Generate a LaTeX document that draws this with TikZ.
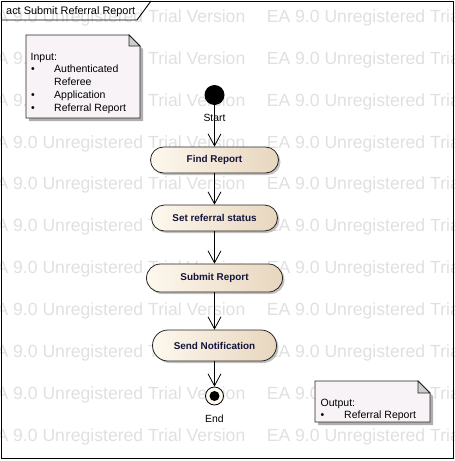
\documentclass[tikz,border=0pt]{standalone}
\usepackage{fontspec}
\setmainfont{Liberation Sans}
\usetikzlibrary{arrows.meta,shadows}
\definecolor{wm}{RGB}{224,224,224}
\definecolor{actL}{RGB}{253,248,238}
\definecolor{actR}{RGB}{232,214,190}
\definecolor{txt}{RGB}{20,20,60}
\definecolor{notefill}{RGB}{247,243,247}
\definecolor{foldc}{RGB}{206,206,206}
\definecolor{shd}{RGB}{175,175,175}
\tikzset{
  wmtext/.style={anchor=base west, inner sep=0pt, text=wm, font=\fontsize{17.6}{20}\selectfont},
  action/.style={draw=black!85, line width=0.8pt, left color=actL, right color=actR,
    inner sep=0pt, text=txt, font=\fontsize{9.9}{12}\selectfont\bfseries,
    drop shadow={shadow xshift=2pt, shadow yshift=-2pt, fill=black!30, opacity=0.8}},
  flow/.style={draw=black, line width=0.8pt, -{Straight Barb[length=12pt,width=13pt,line width=0.8pt]}},
  lbl/.style={anchor=base, inner sep=0pt, font=\fontsize{10.4}{12}\selectfont},
  notetext/.style={anchor=base west, inner sep=0pt, font=\fontsize{10.5}{12}\selectfont},
  notebody/.style={draw=black!85, line width=0.8pt, fill=notefill},
  noteshadow/.style={fill=shd},
  foldpart/.style={draw=black!85, line width=0.8pt, fill=foldc},
  framebox/.style={draw=black, line width=0.9pt}
}
\begin{document}
\begin{tikzpicture}[x=1pt,y=-1pt]
\useasboundingbox (0,0) rectangle (455,461);
% watermark
\begin{scope}
\clip (0,0) rectangle (455,461);
\foreach \k in {0,...,10}{
  \foreach \j/\xx in {0/-15.4,1/266.6}{
    \node[wmtext] (wm-\k-\j) at (\xx,{22.3+41.9*\k}) {EA 9.0 Unregistered Trial Version};
  }
}
\end{scope}
% frame
\draw[framebox] (1,1) rectangle (453,458);
\draw[framebox] (1,20) -- (137,20) -- (151,1);
\node[anchor=base west, inner sep=0pt, font=\fontsize{10.9}{13}\selectfont] (title) at (6,14) {act Submit Referral Report};

% input note
\fill[noteshadow] (29,38) -- (132,38) -- (143,49) -- (143,121) -- (29,121) -- cycle;
\draw[notebody] (26,35) -- (129,35) -- (140,46) -- (140,118) -- (26,118) -- cycle;
\draw[foldpart] (129,35) -- (129,46) -- (140,46) -- cycle;
\node[notetext] (in0) at (30.5,60) {Input:};
\node[notetext] (inb1) at (31,72.5) {•};
\node[notetext] (in1) at (54,72.5) {Authenticated};
\node[notetext] (in1b) at (54,85) {Referee};
\node[notetext] (inb2) at (31,98) {•};
\node[notetext] (in2) at (54,98) {Application};
\node[notetext] (inb3) at (31,111) {•};
\node[notetext] (in3) at (54,111) {Referral Report};

% output note
\fill[noteshadow] (318,384) -- (421,384) -- (433,396) -- (433,425) -- (318,425) -- cycle;
\draw[notebody] (315,381) -- (418,381) -- (430,393) -- (430,422) -- (315,422) -- cycle;
\draw[foldpart] (418,381) -- (418,393) -- (430,393) -- cycle;
\node[notetext] (out0) at (320.5,406) {Output:};
\node[notetext] (outb1) at (320.5,418) {•};
\node[notetext] (out1) at (344,418) {Referral Report};

% start / end
\node[circle, fill=black, minimum size=20pt, inner sep=0pt] (start) at (214.5,95) {};
\node[lbl] (startlbl) at (214.5,121) {Start};

\node[action, minimum width=128pt, minimum height=26pt, rounded corners=13pt] (find) at (214.5,160) {Find Report};
\node[action, minimum width=126pt, minimum height=26pt, rounded corners=13pt] (setref) at (214.5,218) {Set referral status};
\node[action, minimum width=136pt, minimum height=28pt, rounded corners=14pt] (submit) at (214.5,278) {Submit Report};
\node[action, minimum width=124pt, minimum height=31pt, rounded corners=15.5pt] (send) at (214.5,345.5) {Send Notification};

\node[circle, draw=black, line width=0.8pt, fill=actL, minimum size=18pt, inner sep=0pt] (end) at (214.5,396) {};
\node[circle, fill=black, minimum size=10pt, inner sep=0pt] (endin) at (end) {};
\node[lbl] (endlbl) at (214.5,422) {End};

% flows
\draw[flow] (start) -- (find);
\draw[flow] (find) -- (setref);
\draw[flow] (setref) -- (submit);
\draw[flow] (submit) -- (send);
\draw[flow] (send) -- (end);
\end{tikzpicture}
\end{document}
